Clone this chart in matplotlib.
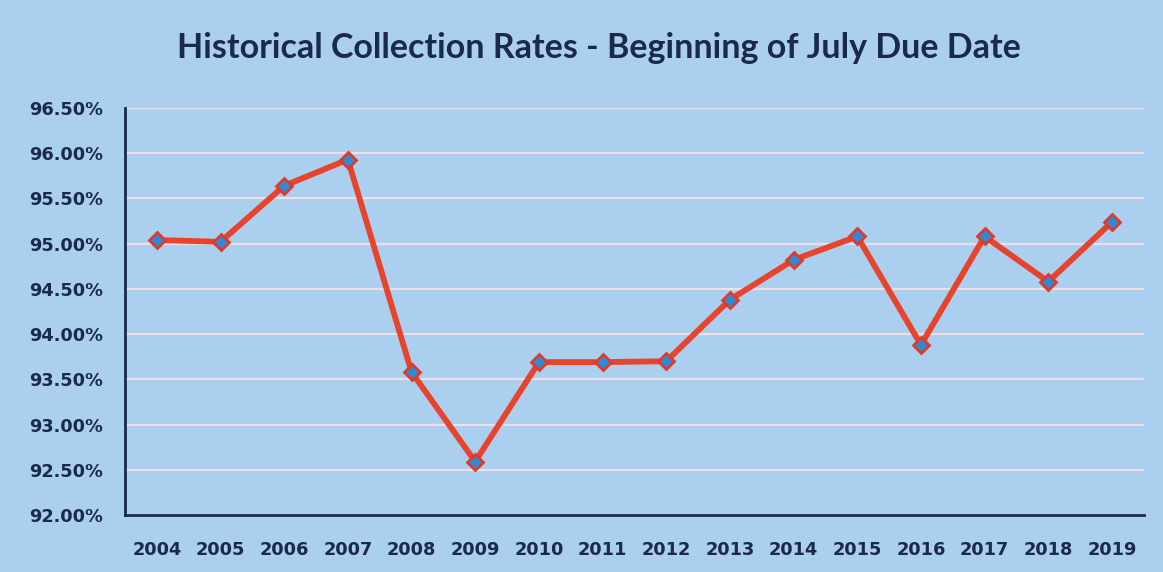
import numpy as np
import matplotlib.pyplot as plt
from matplotlib.ticker import FuncFormatter

# data
years = ["2004", "2005", "2006", "2007", "2008", "2009", "2010", "2011",
         "2012", "2013", "2014", "2015", "2016", "2017", "2018", "2019"]
rates = [95.04, 95.02, 95.64, 95.93, 93.58, 92.59, 93.69, 93.69,
         93.70, 94.38, 94.82, 95.08, 93.88, 95.08, 94.58, 95.24]
y_ticks = [92.0, 92.5, 93.0, 93.5, 94.0, 94.5, 95.0, 95.5, 96.0, 96.5]

bg = "#aacfef"
navy = "#1b2a48"

fig = plt.figure(figsize=(11.63, 5.72), dpi=100, facecolor=bg)
ax = fig.add_axes([0.1075, 0.0997, 0.876, 0.7115])
ax.set_facecolor(bg)

x = np.arange(len(years))
ax.plot(x, rates, color="#e8432c", lw=4.2, zorder=3,
        marker="D", markersize=8, markerfacecolor="#2f8ad6",
        markeredgecolor="#e03a2a", markeredgewidth=2)

ax.set_xlim(-0.5, len(years) - 0.5)
ax.set_ylim(92.0, 96.5)
ax.set_xticks(x)
ax.set_xticklabels(years)
ax.set_yticks(y_ticks)
ax.yaxis.set_major_formatter(FuncFormatter(lambda v, p: f"{v:.2f}%"))

ax.grid(axis="y", color="#ece0ea", lw=1.6, zorder=1)
ax.set_axisbelow(True)

for s in ["top", "right"]:
    ax.spines[s].set_visible(False)
for s in ["left", "bottom"]:
    ax.spines[s].set_color(navy)
    ax.spines[s].set_linewidth(2)

ax.tick_params(axis="both", length=0, colors=navy, labelsize=12.8)
ax.tick_params(axis="y", pad=16)
ax.tick_params(axis="x", pad=19)
for lbl in ax.get_xticklabels() + ax.get_yticklabels():
    lbl.set_fontweight("bold")

fig.text(0.515, 0.916, "Historical Collection Rates - Beginning of July Due Date",
         ha="center", va="center", fontsize=24.5, fontweight="bold",
         color=navy, family="Lato")

plt.savefig("out.png", dpi=100, facecolor=bg)
